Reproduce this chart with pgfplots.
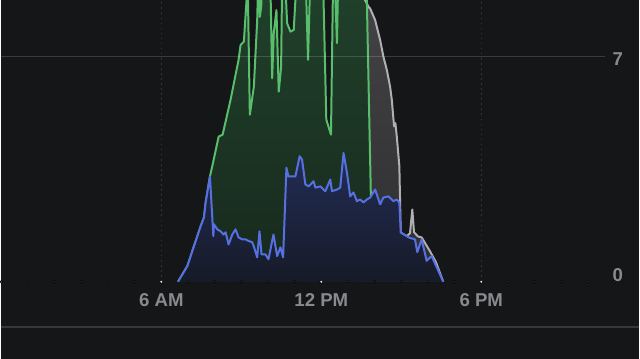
\documentclass[border=0pt]{standalone}
\usepackage{fontspec}
\setmainfont{Liberation Sans}
\usepackage{pgfplots}
\pgfplotsset{compat=1.18}
\definecolor{bg}{HTML}{151618}
\definecolor{sepline}{HTML}{38383B}
\definecolor{labelgray}{HTML}{8A8A8E}
\definecolor{greenline}{HTML}{58BE6C}
\definecolor{blueline}{HTML}{5670E2}
\definecolor{grayline}{HTML}{B0B0B2}
\definecolor{greentop}{HTML}{20412B}
\definecolor{greenbot}{HTML}{18291D}
\definecolor{bluetop}{HTML}{232D55}
\definecolor{bluebot}{HTML}{161A28}
\definecolor{graytop}{HTML}{444446}
\definecolor{graybot}{HTML}{2E2E30}
\definecolor{dotgray}{HTML}{505053}

\pgfplotstableread{
h v
6.628 0
6.979 0.49
7.226 1.11
7.477 1.73
7.600 2.00
7.664 2.47
7.824 3.28
7.951 1.42
7.974 1.79
8.101 1.63
8.224 1.57
8.336 1.47
8.411 1.54
8.523 1.16
8.662 1.47
8.785 1.63
8.897 1.38
9.035 1.32
9.159 1.32
9.271 1.27
9.409 1.23
9.469 1.10
9.596 0.76
9.682 1.57
9.757 0.85
9.907 0.85
10.019 0.70
10.206 1.47
10.344 0.80
10.467 1.07
10.568 0.76
10.692 3.55
10.766 3.28
11.028 3.28
11.189 3.91
11.279 3.80
11.402 3.03
11.525 2.97
11.712 3.13
11.776 2.93
11.963 2.97
12.150 2.82
12.336 3.18
12.400 2.82
12.587 2.87
12.710 2.93
12.834 4.01
12.961 3.40
13.084 2.66
13.208 2.78
13.335 2.51
13.458 2.56
13.581 2.47
13.708 2.56
13.832 2.62
14.019 2.87
14.206 2.41
14.329 2.62
14.516 2.66
14.703 2.51
14.830 2.56
14.927 2.46
14.979 1.53
15.204 1.42
15.301 1.37
15.514 1.32
15.600 0.92
15.764 1.32
15.951 0.65
16.138 0.80
16.572 0
}\blue

\pgfplotstableread{
h v
13.46 9.3
13.645 8.77
13.768 8.56
13.832 8.51
14.019 8.15
14.206 7.53
14.329 7.01
14.456 6.60
14.579 6.08
14.643 5.67
14.729 4.84
14.778 4.94
14.830 4.53
14.927 3.60
14.953 2.56
14.979 1.53
15.204 1.42
15.327 1.51
15.413 2.25
15.477 1.54
15.626 1.41
15.764 1.38
16.075 0.95
16.299 0.61
16.572 0
}\total

\pgfplotstableread{
h v
6.628 0
6.979 0.49
7.226 1.11
7.477 1.73
7.600 2.00
7.664 2.47
7.824 3.28
7.925 3.65
8.150 4.52
8.299 4.58
8.598 5.67
8.897 6.91
8.972 7.37
9.096 7.48
9.196 8.77
9.220 9.3
9.240 9.3
9.320 5.20
9.471 6.08
9.596 8.15
9.630 9.3
9.670 9.3
9.694 8.25
9.746 8.56
9.780 9.3
10.090 9.3
10.157 6.34
10.217 7.74
10.318 8.46
10.404 5.92
10.493 6.70
10.530 9.3
10.650 9.3
10.718 8.05
10.841 7.79
10.966 7.84
11.028 8.77
11.050 9.3
11.420 9.3
11.503 6.91
11.580 9.3
12.070 9.3
12.187 5.05
12.363 4.58
12.440 9.3
12.510 9.3
12.587 7.43
12.630 9.3
13.670 9.3
13.708 8.77
13.860 2.62
}\solar

\pgfplotstableread{
h v
0 0
1 0
2 0
3 0
4 0
5 0
7 0
8 0
9 0
10 0
11 0
13 0
14 0
15 0
16 0
17 0
19 0
20 0
21 0
22 0
23 0
}\hourdots

\pgfplotstableread{
h v
6 0
12 0
18 0
}\majordots

\begin{document}
\begin{tikzpicture}
\fill[bg] (0,0) rectangle (480pt,270pt);
\draw[line width=1.1pt, sepline] (0,24pt) -- (480pt,24pt);
\begin{axis}[
  at={(0pt,52.5pt)}, anchor=south west,
  scale only axis, width=480pt, height=217.5pt,
  xmin=0, xmax=23.925, ymin=-0.233, ymax=8.77,
  axis line style={draw=none},
  major tick length=0pt,
  xtick={6,12,18}, xticklabels={6 AM,12 PM,6 PM},
  ytick={0.2,6.92}, yticklabels={0,7},
  yticklabel pos=right,
  tick label style={font=\fontsize{14}{16}\selectfont\bfseries, text=labelgray},
  xticklabel style={anchor=center, yshift=-7.9pt},
  yticklabel style={anchor=center, xshift=-16.1pt},
]
% vertical dotted guides
\addplot[draw=white, draw opacity=0.13, line width=0.8pt, dash pattern=on 1.2pt off 2.6pt] coordinates {(6,0) (6,8.77)};
\addplot[draw=white, draw opacity=0.13, line width=0.8pt, dash pattern=on 1.2pt off 2.6pt] coordinates {(12,0) (12,8.77)};
\addplot[draw=white, draw opacity=0.13, line width=0.8pt, dash pattern=on 1.2pt off 2.6pt] coordinates {(18,0) (18,8.77)};
% total (gray)
\addplot[draw=none, top color=graytop, bottom color=graybot] table[x=h,y=v] {\total} \closedcycle;
% solar (green)
\addplot[draw=none, top color=greentop, bottom color=greenbot] table[x=h,y=v] {\solar} \closedcycle;
\addplot[grayline, line width=1.5pt, line join=round] table[x=h,y=v] {\total};
\addplot[greenline, line width=1.5pt, line join=round] table[x=h,y=v] {\solar};
% usage (blue)
\addplot[draw=none, top color=bluetop, bottom color=bluebot] table[x=h,y=v] {\blue} \closedcycle;
\addplot[blueline, line width=1.5pt, line join=round] table[x=h,y=v] {\blue};
% grid line at 7
\addplot[draw=white, draw opacity=0.16, line width=0.8pt] coordinates {(0,7) (22.65,7)};
% baseline dots
\addplot[only marks, mark=*, mark size=1.0pt, mark options={draw=none, fill=dotgray}] table[x=h,y=v] {\hourdots};
\addplot[only marks, mark=*, mark size=1.3pt, mark options={draw=none, fill=white!90!gray}] table[x=h,y=v] {\majordots};
\end{axis}
\end{tikzpicture}
\end{document}
